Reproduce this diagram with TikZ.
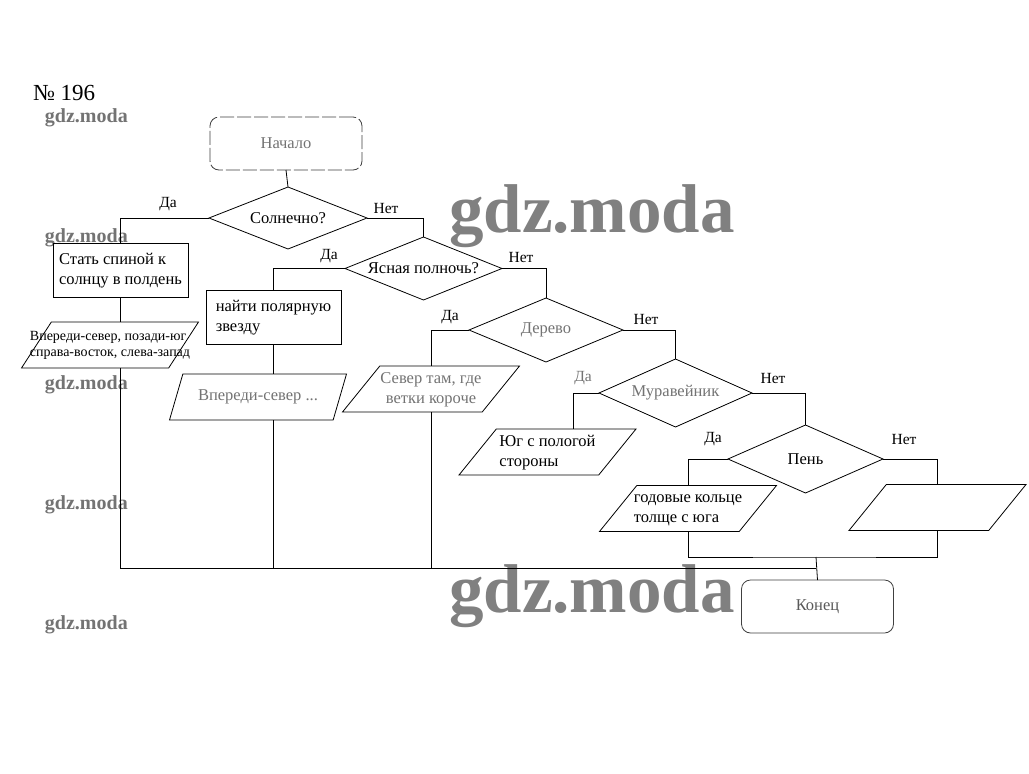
\documentclass[tikz,border=0pt]{standalone}
\usepackage{fontspec}
\setmainfont{Liberation Serif}
\usetikzlibrary{shapes.geometric,calc}
\newcommand{\twol}[1]{\makebox[0pt]{\begin{tabular}{@{}l@{}}#1\end{tabular}}}
\newcommand{\twoc}[1]{\makebox[0pt]{\begin{tabular}{@{}c@{}}#1\end{tabular}}}
\newcommand{\onel}[1]{\makebox[0pt]{#1}}
\begin{document}
\begin{tikzpicture}[x=1pt,y=-1pt,
  every node/.style={inner sep=0pt, outer sep=0pt},
  line/.style={draw=black, line width=0.8pt},
  txt/.style={font=\fontsize{16.5}{20}\selectfont},
  lbl/.style={font=\fontsize{15.5}{18}\selectfont},
  faded/.style={text=black!55},
  term/.style={txt, draw=black!75, line width=0.8pt, rectangle, rounded corners=9pt, minimum width=152pt, minimum height=53pt},
  dec/.style={txt, draw, line width=0.8pt, diamond, minimum width=156pt, minimum height=64pt},
  boxn/.style={txt, draw, line width=0.8pt, rectangle, minimum width=135pt, minimum height=54pt},
  io/.style={txt, draw, line width=0.8pt, trapezium, trapezium left angle=47, trapezium right angle=133, trapezium stretches body, minimum width=177pt, minimum height=46pt},
  wmsmall/.style={font=\bfseries\fontsize{20}{20}\selectfont, text=black!55, anchor=west},
  wmbig/.style={font=\bfseries\fontsize{69}{69}\selectfont, text=black!50, anchor=base}
]
\useasboundingbox[fill=white] (0,0) rectangle (1029,774);

% title
\node[font=\fontsize{23}{23}\selectfont, anchor=base west] (title) at (33,100) {№ 196};

% watermarks
\node[wmsmall] (w1) at (45,118) {gdz.moda};
\node[wmsmall] (w2) at (45,238) {gdz.moda};
\node[wmsmall] (w3) at (45,385) {gdz.moda};
\node[wmsmall] (w4) at (45,505) {gdz.moda};
\node[wmsmall] (w5) at (45,625) {gdz.moda};
\node[wmbig] (wb1) at (592,232) {gdz.moda};
\node[wmbig] (wb2) at (592,612) {gdz.moda};

% nodes
\node[term, faded, dash pattern=on 14pt off 3pt] (start) at (286,143.5) {Начало};
\node[dec, minimum width=158pt, minimum height=62pt] (d1) at (288,218) {\onel{Солнечно?}};
\node[boxn] (r1) at (120.5,270) {\twol{Стать спиной к\\солнцу в полдень}};
\node[dec, minimum width=157pt, minimum height=63pt] (d2) at (423.5,268.5) {\onel{Ясная полночь?}};
\node[boxn] (r2) at (273.5,317) {\twol{найти полярную\\звезду}};
\node[dec, faded, minimum width=154pt] (d3) at (546,330) {\onel{Дерево}};
\node[dec, faded, minimum width=153pt, minimum height=68pt] (d4) at (675.5,393) {\onel{Муравейник}};
\node[dec, minimum width=155pt, minimum height=68pt] (d5) at (805.5,459) {\onel{Пень}};

\node[io, font=\fontsize{14}{16}\selectfont] (p1) at (110,345) {\twol{Впереди-север, позади-юг\\справа-восток, слева-запад}};
\node[io, faded] (p2) at (258,397) {\onel{Впереди-север ...}};
\node[io, faded] (p3) at (431,389) {\twoc{Север там, где\\ветки короче}};
\node[io] (p4) at (547.5,452) {\twol{Юг с пологой\\стороны}};
\node[io] (p5) at (688,508.5) {\twol{годовые кольце\\толще с юга}};
\node[io] (p6) at (937.5,507.5) {\twol{\phantom{Юг}\\\phantom{Юг}}};
\node[term] (end) at (817.5,606.5) {\textcolor{black!65}{Конец}};

% labels
\node[lbl] (l1) at (168,204) {Да};
\node[lbl] (l2) at (386,208) {Нет};
\node[lbl] (l3) at (329,256) {Да};
\node[lbl] (l4) at (521,257) {Нет};
\node[lbl] (l5) at (450,317) {Да};
\node[lbl] (l6) at (646,319) {Нет};
\node[lbl, faded] (l7) at (583,378) {Да};
\node[lbl] (l8) at (773,378) {Нет};
\node[lbl] (l9) at (713,439) {Да};
\node[lbl] (l10) at (904,439) {Нет};

% connectors
\coordinate (bus) at (816,568);
\coordinate (join) at (816,557);
\draw[line] (start.south) -- (d1.north);
\draw[line] (d1.west) -| (r1.north);
\draw[line] (d1.east) -| (d2.north);
\draw[line] (d2.west) -| (r2.north);
\draw[line] (d2.east) -| (d3.north);
\draw[line] (d3.west) -| (p3.north);
\draw[line] (d3.east) -| (d4.north);
\draw[line] (d4.west) -| ($(p4.north)+(25.5,0)$);
\draw[line] (d4.east) -| (d5.north);
\draw[line] (d5.west) -| (p5.north);
\draw[line] (d5.east) -| (p6.north);
\draw[line] (r1.south) -- (r1.south |- p1.north);
\draw[line] (r2.south) -- (r2.south |- p2.north);
\draw[line] (r1.south |- p1.south) |- (bus);
\draw[line] (r2.south |- p2.south) -- (r2.south |- bus);
\draw[line] (p3.south) -- (p3.south |- bus);
\draw[line] (p5.south) |- (join) -| (p6.south);
\draw[line] (join) -- (end.north);
\end{tikzpicture}
\end{document}
